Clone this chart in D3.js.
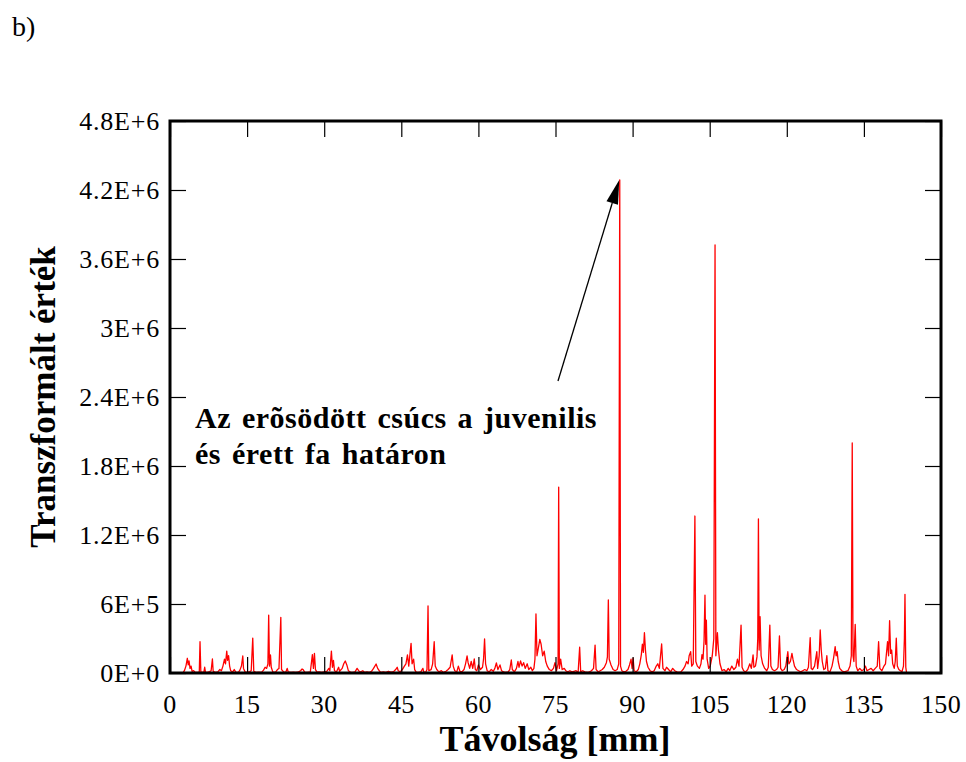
<!DOCTYPE html>
<html>
<head>
<meta charset="utf-8">
<script src="https://cdn.jsdelivr.net/npm/d3@7"></script>
<style>
  html, body { margin: 0; padding: 0; background: #fff; }
  svg text { font-family: "Liberation Serif", "DejaVu Serif", serif; fill: #000; }
</style>
</head>
<body>
<svg id="chart" width="966" height="762"></svg>
<script>
// ---- data (distance in mm, transformed value in thousands) ----
const xTicks = [0, 15, 30, 45, 60, 75, 90, 105, 120, 135, 150];
const yTicks = [0, 0.6e6, 1.2e6, 1.8e6, 2.4e6, 3.0e6, 3.6e6, 4.2e6, 4.8e6];
const yTickLabels = ["0E+0", "6E+5", "1.2E+6", "1.8E+6", "2.4E+6", "3E+6", "3.6E+6", "4.2E+6", "4.8E+6"];
const panelLabel = "b)";
const xTitle = "Távolság [mm]";
const yTitle = "Transzformált érték";
const noteLines = ["Az erõsödött csúcs a juvenilis", "és érett fa határon"];
const notePeakMm = 87.5;
const notePeakValue = 4287e3;

const signalK = [
  [2.5,0],[2.8,20],[3.1,60],[3.37,128],[3.55,70],[3.7,105],[3.9,40],[4.1,60],[4.3,15],[4.6,20],[4.9,5],
  [5.5,8],[5.7,10],[5.84,272],[6.0,10],[6.3,5],[6.6,10],[6.75,50],[6.9,8],[7.3,5],[7.7,12],[8.0,20],
  [8.25,122],[8.4,15],[8.8,5],[9.3,10],[9.7,30],[10.0,20],[10.3,60],[10.6,120],[10.8,80],[11.04,191],
  [11.2,110],[11.4,150],[11.6,60],[11.8,20],[12.2,10],[12.5,30],[12.8,8],[13.3,5],[13.6,25],[13.9,60],
  [14.16,148],[14.3,40],[14.6,10],[15.0,5],[15.5,12],[15.8,20],[16.1,304],[16.3,15],[16.7,5],[17.3,8],
  [17.8,5],[18.2,25],[18.5,50],[18.8,40],[19.05,80],[19.2,504],[19.35,60],[19.55,157],[19.7,50],[20.0,10],
  [20.5,5],[20.9,30],[21.2,40],[21.56,484],[21.7,30],[22.1,10],[22.5,5],[22.8,40],[23.0,10],[23.5,5],
  [24.0,8],[24.5,5],[25.0,10],[25.4,20],[25.7,35],[25.9,30],[26.2,8],[26.7,5],[27.3,10],[27.7,160],
  [27.9,40],[28.1,171],[28.3,30],[28.6,8],[29.0,10],[29.5,5],[30.0,10],[30.5,15],[30.9,40],[31.1,20],
  [31.4,191],[31.6,50],[31.8,110],[32.0,20],[32.4,10],[32.8,50],[33.0,15],[33.5,40],[33.8,80],[34.1,104],
  [34.4,70],[34.7,20],[35.1,8],[35.6,5],[36.0,10],[36.4,40],[36.7,20],[37.0,8],[37.5,20],[37.9,5],
  [38.3,10],[38.8,5],[39.2,15],[39.6,40],[40.1,78],[40.4,40],[40.7,20],[41.0,5],[41.5,10],[42.0,5],
  [42.5,15],[43.0,8],[43.5,12],[43.9,30],[44.2,50],[44.4,20],[44.8,10],[45.2,30],[45.6,60],[45.9,80],
  [46.2,157],[46.45,60],[46.9,258],[47.1,80],[47.4,120],[47.6,30],[47.9,8],[48.3,5],[48.8,10],[49.2,40],
  [49.4,5],[49.8,10],[50.0,30],[50.2,583],[50.35,20],[50.8,30],[51.1,80],[51.4,272],[51.6,60],[51.9,30],
  [52.3,10],[52.8,20],[53.2,5],[53.7,15],[54.1,30],[54.5,50],[54.9,157],[55.1,60],[55.4,20],[55.8,10],
  [56.1,60],[56.4,15],[56.8,10],[57.2,30],[57.5,80],[57.8,148],[58.0,90],[58.3,40],[58.6,100],[58.9,40],
  [59.2,122],[59.4,30],[59.7,20],[60.0,70],[60.4,30],[60.8,50],[61.0,120],[61.2,296],[61.4,80],[61.7,20],
  [62.1,10],[62.5,30],[62.9,15],[63.2,40],[63.5,87],[63.8,30],[64.2,70],[64.5,20],[64.9,10],[65.3,5],
  [65.8,10],[66.1,30],[66.4,113],[66.6,30],[67.0,10],[67.4,40],[67.7,100],[67.9,50],[68.2,105],[68.5,60],
  [68.8,90],[69.1,40],[69.5,80],[69.8,30],[70.2,50],[70.5,20],[70.8,40],[71.0,120],[71.2,513],[71.4,150],
  [71.6,200],[71.95,293],[72.2,250],[72.5,150],[72.8,190],[73.1,100],[73.4,60],[73.8,30],[74.2,20],[74.6,40],
  [74.9,90],[75.2,20],[75.5,80],[75.62,1617],[75.75,40],[76.0,120],[76.3,30],[76.7,40],[77.0,20],[77.4,10],
  [77.8,20],[78.2,10],[78.6,15],[79.0,20],[79.4,5],[79.7,224],[79.9,10],[80.3,20],[80.7,10],[81.2,5],
  [81.6,10],[82.0,20],[82.4,40],[82.7,243],[82.9,30],[83.3,10],[83.7,20],[84.1,30],[84.5,50],[84.9,90],
  [85.1,140],[85.28,635],[85.45,120],[85.8,70],[86.2,30],[86.6,20],[87.0,30],[87.3,80],[87.5,4287],[87.65,60],
  [87.9,20],[88.3,10],[88.7,15],[89.1,30],[89.4,70],[89.7,120],[89.9,40],[90.1,130],[90.3,20],[90.7,10],
  [91.1,30],[91.4,80],[91.7,160],[91.9,250],[92.1,180],[92.3,350],[92.5,200],[92.7,100],[93.0,50],[93.4,20],
  [93.8,10],[94.2,20],[94.6,60],[94.9,80],[95.2,40],[95.65,252],[95.9,40],[96.3,20],[96.6,50],[97.0,30],
  [97.4,10],[97.8,40],[98.2,20],[98.6,10],[99.0,5],[99.4,10],[99.8,30],[100.2,60],[100.5,100],[100.8,80],
  [101.0,150],[101.3,185],[101.5,60],[101.8,80],[102.12,1365],[102.3,100],[102.6,60],[103.0,40],[103.3,80],[103.5,160],
  [103.7,120],[103.9,280],[104.08,678],[104.22,250],[104.35,460],[104.5,120],[104.8,40],[105.1,60],[105.5,150],[105.8,300],
  [106.04,3722],[106.2,150],[106.5,350],[106.7,200],[107.0,80],[107.4,20],[107.8,30],[108.2,10],[108.6,40],[108.9,20],
  [109.3,60],[109.7,30],[110.1,50],[110.4,120],[110.7,60],[111.1,417],[111.3,50],[111.6,20],[112.0,10],[112.4,30],
  [112.8,80],[113.1,40],[113.44,157],[113.6,50],[113.9,60],[114.2,140],[114.35,300],[114.48,1340],[114.62,200],[114.8,490],
  [115.0,150],[115.3,80],[115.7,40],[116.1,20],[116.4,50],[116.7,417],[116.9,60],[117.2,30],[117.6,20],[118.0,30],
  [118.3,50],[118.57,322],[118.8,40],[119.1,20],[119.5,30],[119.8,60],[120.2,185],[120.4,80],[120.7,100],[121.0,170],
  [121.2,120],[121.5,60],[121.9,30],[122.3,20],[122.7,10],[123.1,20],[123.5,30],[123.9,20],[124.2,50],[124.55,307],
  [124.75,40],[125.0,30],[125.4,60],[125.84,185],[126.0,40],[126.3,150],[126.5,374],[126.7,200],[126.9,100],[127.2,30],
  [127.5,40],[127.79,150],[128.0,20],[128.4,10],[128.8,60],[129.1,130],[129.41,229],[129.6,150],[129.8,185],[130.0,100],
  [130.3,40],[130.7,20],[131.1,10],[131.5,15],[131.9,20],[132.3,60],[132.55,150],[132.73,2000],[132.88,150],[133.05,100],
  [133.31,423],[133.5,60],[133.8,20],[134.2,40],[134.6,20],[135.0,30],[135.3,60],[135.6,20],[136.0,30],[136.4,40],
  [136.8,20],[137.2,40],[137.6,60],[137.86,272],[138.1,40],[138.5,20],[138.9,60],[139.2,80],[139.6,272],[139.8,150],
  [140.0,455],[140.2,170],[140.4,200],[140.6,80],[140.9,40],[141.1,100],[141.3,302],[141.5,60],[141.8,30],[142.1,20],
  [142.4,10],[142.7,60],[142.88,300],[142.99,684],[143.15,50],[143.3,0]
];

(function () {
  const svg = d3.select("#chart");
  const pLeft = 170, pRight = 941, pTop = 121, pBottom = 673;

  const x = d3.scaleLinear().domain([0, 150]).range([pLeft, pRight]);
  const y = d3.scaleLinear().domain([0, 4.8e6]).range([pBottom, pTop]);

  // data line
  const line = d3.line()
    .x(d => x(d[0]))
    .y(d => y(d[1] * 1000));

  svg.append("path")
    .datum(signalK)
    .attr("d", line)
    .attr("fill", "none")
    .attr("stroke", "#ff0000")
    .attr("stroke-width", 1.3)
    .attr("stroke-linejoin", "round");

  // axes (ticks inward on all four sides)
  const tickLen = 16;
  const gB = svg.append("g").attr("transform", `translate(0,${pBottom})`)
    .call(d3.axisTop(x).tickValues(xTicks).tickSize(tickLen).tickFormat(""));
  const gT = svg.append("g").attr("transform", `translate(0,${pTop})`)
    .call(d3.axisBottom(x).tickValues(xTicks).tickSize(tickLen).tickFormat(""));
  const gL = svg.append("g").attr("transform", `translate(${pLeft},0)`)
    .call(d3.axisRight(y).tickValues(yTicks).tickSize(tickLen).tickFormat(""));
  const gR = svg.append("g").attr("transform", `translate(${pRight},0)`)
    .call(d3.axisLeft(y).tickValues(yTicks).tickSize(tickLen).tickFormat(""));
  [gB, gT, gL, gR].forEach(g => {
    g.select(".domain").remove();
    g.selectAll(".tick line").attr("stroke", "#000").attr("stroke-width", 1.2);
  });

  // frame
  svg.append("rect")
    .attr("x", pLeft).attr("y", pTop)
    .attr("width", pRight - pLeft).attr("height", pBottom - pTop)
    .attr("fill", "none").attr("stroke", "#000").attr("stroke-width", 3);

  // tick labels
  svg.append("g").selectAll("text").data(xTicks).join("text")
    .attr("x", d => x(d)).attr("y", 713)
    .attr("text-anchor", "middle")
    .attr("font-size", 26)
    .attr("letter-spacing", 0.4)
    .text(d => d);

  svg.append("g").selectAll("text").data(yTicks).join("text")
    .attr("x", 160).attr("y", d => y(d) + 8.5)
    .attr("text-anchor", "end")
    .attr("font-size", 26)
    .attr("letter-spacing", 0.8)
    .text((d, i) => yTickLabels[i]);

  // titles
  svg.append("text")
    .attr("x", 555).attr("y", 751)
    .attr("text-anchor", "middle")
    .attr("font-size", 36).attr("font-weight", "bold")
    .text(xTitle);

  svg.append("text")
    .attr("transform", `translate(55,397) rotate(-90)`)
    .attr("text-anchor", "middle")
    .attr("font-size", 35).attr("font-weight", "bold")
    .text(yTitle);

  svg.append("text")
    .attr("x", 12).attr("y", 36)
    .attr("font-size", 28)
    .text(panelLabel);

  // annotation
  const note = svg.append("text")
    .attr("font-size", 30).attr("font-weight", "bold")
    .attr("letter-spacing", 0.5).attr("word-spacing", 3);
  noteLines.forEach((t, i) => {
    note.append("tspan").attr("x", 195).attr("y", 428 + i * 36).text(t);
  });

  // arrow
  const tipX = x(notePeakMm) - 0.5, tipY = y(notePeakValue);
  const startX = 558, startY = 381;
  const ang = Math.atan2(tipY - startY, tipX - startX);
  const headLen = 24, headHalf = 6;
  const bx = tipX - headLen * Math.cos(ang), by = tipY - headLen * Math.sin(ang);
  svg.append("line")
    .attr("x1", startX).attr("y1", startY).attr("x2", bx).attr("y2", by)
    .attr("stroke", "#000").attr("stroke-width", 1.3);
  svg.append("path")
    .attr("d", d3.line()([
      [tipX, tipY],
      [bx + headHalf * Math.sin(ang), by - headHalf * Math.cos(ang)],
      [bx - headHalf * Math.sin(ang), by + headHalf * Math.cos(ang)]
    ]) + "Z")
    .attr("fill", "#000");
})();
</script>
</body>
</html>
